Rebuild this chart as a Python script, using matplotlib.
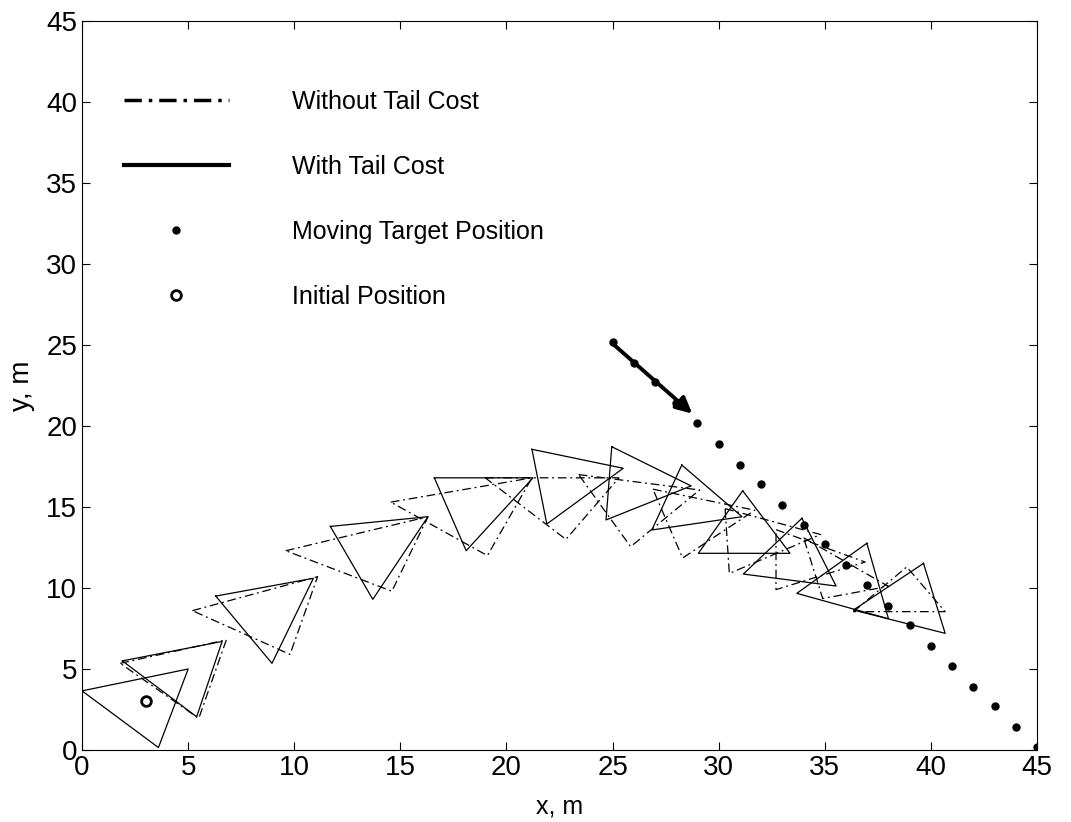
import numpy as np
import matplotlib
matplotlib.use("Agg")
import matplotlib.pyplot as plt
from matplotlib.lines import Line2D

plt.rcParams['font.family'] = ['Liberation Sans', 'DejaVu Sans']

# vehicle footprints (triangle vertices, m) -- without tail cost
no_tail_x = [
    [1.8, 6.8, 5.5],
    [5.2, 11.1, 9.8],
    [9.6, 16.3, 14.6],
    [14.55, 21.2, 19.1],
    [19.0, 25.3, 22.8],
    [23.4, 29.1, 25.85],
    [26.9, 31.7, 28.3],
    [30.3, 34.8, 30.5],
    [32.7, 36.9, 32.7],
    [34.0, 38.0, 34.9],
    [36.35, 38.86, 40.67],
]
no_tail_y = [
    [5.35, 6.8, 1.95],
    [8.6, 10.7, 5.9],
    [12.3, 14.4, 9.8],
    [15.3, 16.8, 12.0],
    [16.8, 16.8, 13.0],
    [17.0, 16.05, 12.55],
    [16.1, 14.8, 11.85],
    [14.9, 13.3, 10.9],
    [13.6, 11.6, 9.9],
    [13.1, 10.1, 9.35],
    [8.54, 11.3, 8.54],
]

# vehicle footprints -- with tail cost
tail_x = [
    [0.0, 5.0, 3.6],
    [1.9, 6.6, 5.4],
    [6.3, 10.9, 8.95],
    [11.7, 16.3, 13.7],
    [16.6, 21.25, 18.1],
    [21.2, 25.5, 21.9],
    [24.96, 28.7, 24.69],
    [28.26, 31.1, 26.85],
    [31.13, 29.04, 33.36],
    [33.92, 31.16, 35.53],
    [36.98, 33.68, 38.0],
    [39.65, 40.67, 36.35],
]
tail_y = [
    [3.65, 5.0, 0.15],
    [5.5, 6.7, 2.05],
    [9.5, 10.6, 5.35],
    [13.8, 14.4, 9.3],
    [16.8, 16.8, 12.3],
    [18.56, 17.39, 13.95],
    [18.72, 16.3, 14.2],
    [17.59, 14.4, 13.58],
    [16.0, 12.14, 12.14],
    [14.3, 10.86, 10.12],
    [12.76, 9.67, 8.1],
    [11.52, 7.2, 8.64],
]

# moving target samples
target_x = [25, 26, 27, 28, 29, 30, 31, 32, 33, 34, 35,
            36, 37, 38, 39, 40, 41, 42, 43, 44, 45]
target_y = [25.2, 23.9, 22.7, 21.4, 20.2, 18.9, 17.6, 16.4, 15.1, 13.9, 12.7,
            11.4, 10.2, 8.9, 7.7, 6.4, 5.2, 3.9, 2.7, 1.4, 0.2]

init_x, init_y = 3.0, 3.0

fig = plt.figure(figsize=(10.71, 8.22), dpi=100)
ax = fig.add_axes([0.0766, 0.0876, 0.8917, 0.8869])

for xs, ys in zip(no_tail_x, no_tail_y):
    ax.plot(xs + xs[:1], ys + ys[:1], color='k', lw=0.9, ls=(0, (7, 3, 1.5, 3)))
for xs, ys in zip(tail_x, tail_y):
    ax.plot(xs + xs[:1], ys + ys[:1], color='k', lw=0.9, ls='-')

ax.plot(target_x, target_y, 'o', color='k', ms=5)
ax.plot(init_x, init_y, 'o', mfc='white', mec='k', mew=2, ms=7)

# heading of the target
ax.annotate('', xy=(target_x[4] - 0.15, target_y[4] + 0.45), xytext=(target_x[0] - 0.1, target_y[0]),
            arrowprops=dict(arrowstyle='-|>', color='k', lw=2.8, mutation_scale=24))

ax.set_xlim(0, 45)
ax.set_ylim(0, 45)
ax.set_xticks(np.arange(0, 46, 5))
ax.set_yticks(np.arange(0, 46, 5))
ax.tick_params(direction='in', top=True, right=True, labelsize=20, length=6)
ax.set_xlabel('x, m', fontsize=18, labelpad=10)
ax.set_ylabel('y, m', fontsize=20, labelpad=8)

handles = [
    Line2D([], [], color='k', lw=2.5, ls=(0, (5, 2, 1, 2))),
    Line2D([], [], color='k', lw=3, ls='-'),
    Line2D([], [], color='k', marker='o', ls='none', ms=5),
    Line2D([], [], color='k', marker='o', mfc='white', mew=2, ls='none', ms=7),
]
labels = ['Without Tail Cost', 'With Tail Cost', 'Moving Target Position', 'Initial Position']
ax.legend(handles, labels, loc='upper left', bbox_to_anchor=(0.02, 0.936), frameon=False,
          fontsize=18, handlelength=4.2, handletextpad=2.55, labelspacing=1.64)

fig.savefig('out.png', dpi=100)
